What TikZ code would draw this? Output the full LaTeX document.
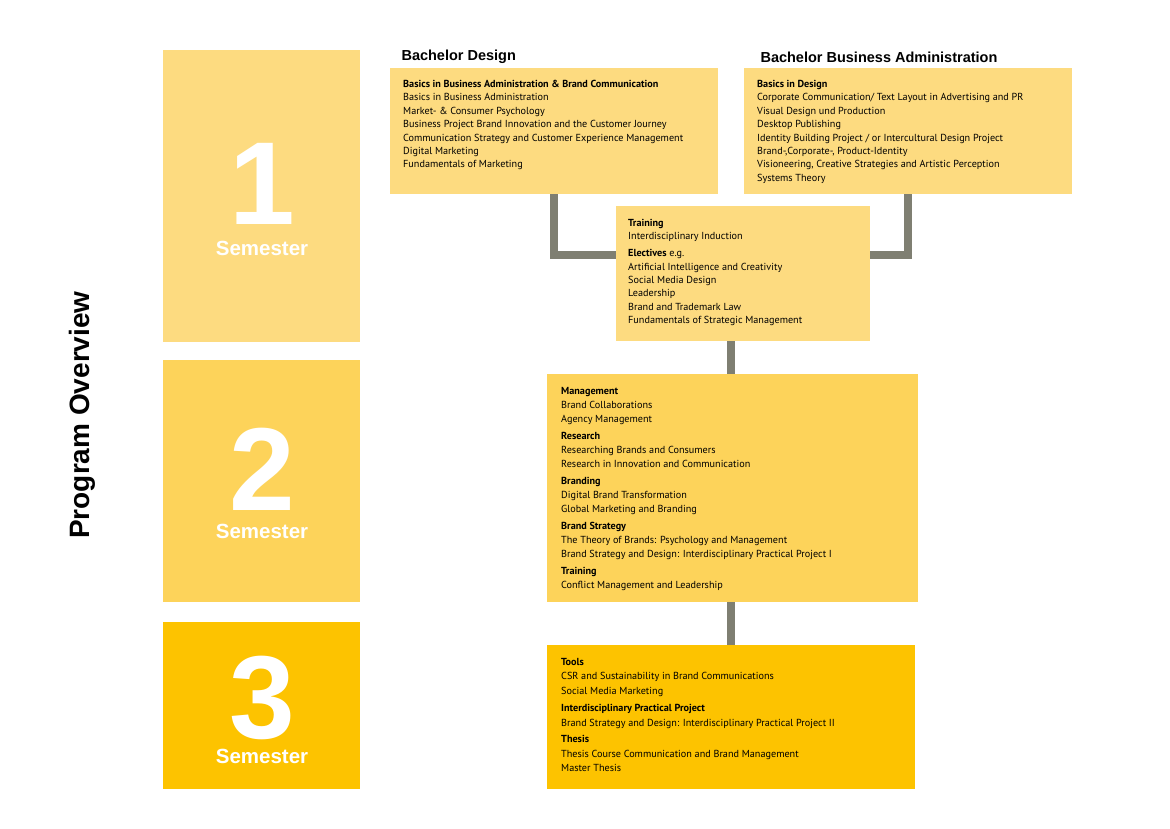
\documentclass[tikz,border=0pt]{standalone}
\usepackage{fontspec}
\setmainfont{PT Sans}
\newfontfamily\headfont{Liberation Sans}
\begin{document}
\begin{tikzpicture}[x=1pt,y=-1pt]
\definecolor{cA}{HTML}{FDDB80}
\definecolor{cB}{HTML}{FDD35A}
\definecolor{cC}{HTML}{FDC300}
\definecolor{conn}{HTML}{7F7F72}
\tikzset{
 txt/.style={anchor=north west,align=left,inner sep=0pt,font=\fontsize{10.2}{13.4}\selectfont},
 bignum/.style={text=white,inner sep=0pt,anchor=base,font=\headfont\bfseries\fontsize{118}{118}\selectfont},
 semlab/.style={text=white,inner sep=0pt,font=\headfont\bfseries\fontsize{20.5}{20.5}\selectfont},
 head/.style={anchor=west,font=\headfont\bfseries\fontsize{14.5}{14.5}\selectfont},
 conline/.style={draw=conn,line width=8pt}
}
\useasboundingbox (0,0) rectangle (1170,828);
\fill[white] (0,0) rectangle (1170,828);
% semesters
\fill[cA] (163,50) rectangle (360,342);
\fill[cB] (163,360) rectangle (360,602);
\fill[cC] (163,622) rectangle (360,789);
\node[bignum] (n1) at (262,224) {1};
\node[semlab] (s1) at (262,248) {Semester};
\node[bignum] (n2) at (262,510) {2};
\node[semlab] (s2) at (262,531) {Semester};
\node[bignum] (n3) at (262,738) {3};
\node[semlab] (s3) at (262,756) {Semester};
\node[rotate=90,font=\headfont\bfseries\fontsize{28}{28}\selectfont] (po) at (82,415) {Program Overview};
% connectors
\coordinate (c1) at (554,194);
\coordinate (c2) at (908,194);
\draw[conline] (554,194) -- (554,255) -- (617,255);
\draw[conline] (908,194) -- (908,255) -- (869,255);
\draw[conline] (731,341) -- (731,375);
\draw[conline] (731,602) -- (731,646);
% boxes
\node[head] (hbd) at (398,57) {Bachelor Design};
\node[head] (hbba) at (757,57) {Bachelor Business Administration};
\fill[cA] (390,68) rectangle (718,194);
\fill[cA] (744,68) rectangle (1072,194);
\fill[cA] (616,206) rectangle (870,341);
\fill[cB] (547,374) rectangle (918,602);
\fill[cC] (547,645) rectangle (915,789);
\node[txt] (tbd) at (403,80) {\textbf{Basics in Business Administration \& Brand Communication}\\
Basics in Business Administration\\
Market- \& Consumer Psychology\\
Business Project Brand Innovation and the Customer Journey\\
Communication Strategy and Customer Experience Management\\
Digital Marketing\\
Fundamentals of Marketing};
\node[txt] (tbba) at (757,80) {\textbf{Basics in Design}\\
Corporate Communication/ Text Layout in Advertising and PR\\
Visual Design und Production\\
Desktop Publishing\\
Identity Building Project / or Intercultural Design Project\\
Brand-,Corporate-, Product-Identity\\
Visioneering, Creative Strategies and Artistic Perception\\
Systems Theory};
\node[txt] (ttr) at (628,219) {\textbf{Training}\\
Interdisciplinary Induction\\[3.5pt]
\textbf{Electives} e.g.\\
Artificial Intelligence and Creativity\\
Social Media Design\\
Leadership\\
Brand and Trademark Law\\
Fundamentals of Strategic Management};
\node[txt,font=\fontsize{10.2}{14}\selectfont] (tmg) at (561,387) {\textbf{Management}\\
Brand Collaborations\\
Agency Management\\[3pt]
\textbf{Research}\\
Researching Brands and Consumers\\
Research in Innovation and Communication\\[3pt]
\textbf{Branding}\\
Digital Brand Transformation\\
Global Marketing and Branding\\[3pt]
\textbf{Brand Strategy}\\
The Theory of Brands: Psychology and Management\\
Brand Strategy and Design: Interdisciplinary Practical Project I\\[3pt]
\textbf{Training}\\
Conflict Management and Leadership};
\node[txt,font=\fontsize{10.2}{14.5}\selectfont] (ttl) at (561,658) {\textbf{Tools}\\
CSR and Sustainability in Brand Communications\\
Social Media Marketing\\[3pt]
\textbf{Interdisciplinary Practical Project}\\
Brand Strategy and Design: Interdisciplinary Practical Project II\\[2pt]
\textbf{Thesis}\\
Thesis Course Communication and Brand Management\\
Master Thesis};
\end{tikzpicture}
\end{document}
